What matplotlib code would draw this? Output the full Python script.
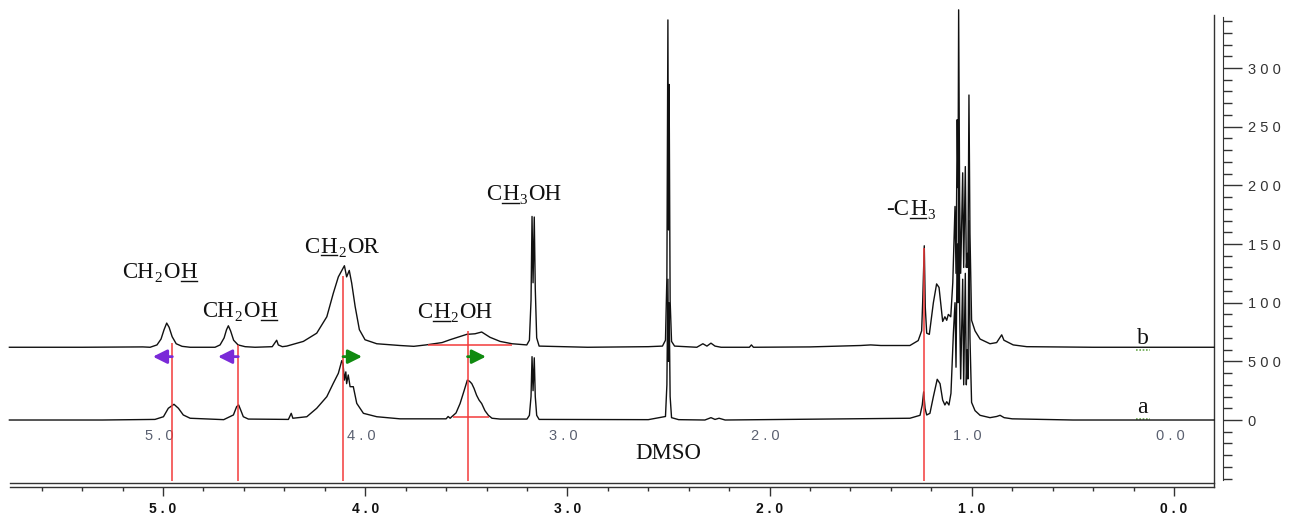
import numpy as np
import matplotlib
matplotlib.use('Agg')
import matplotlib.pyplot as plt
from matplotlib.ticker import FixedLocator, MultipleLocator
from matplotlib.transforms import IdentityTransform
from matplotlib.lines import Line2D

# Spectrum a (bottom trace): chemical shift [ppm] and intensity
ppm_a = [5.76, 5.30, 5.04, 4.998, 4.974, 4.946, 4.924, 4.900, 4.866,
         4.70, 4.652, 4.636, 4.626, 4.616, 4.603, 4.578,
         4.38, 4.366, 4.358,
         4.289, 4.240, 4.190, 4.158, 4.133, 4.116, 4.110, 4.103, 4.096, 4.092,
         4.084, 4.075, 4.059, 4.042, 4.009, 3.943, 3.828,
         3.60, 3.59, 3.58,
         3.572, 3.551, 3.531, 3.511, 3.495, 3.484, 3.473, 3.462, 3.449, 3.437,
         3.424, 3.408, 3.391, 3.373, 3.333,
         3.20, 3.188, 3.180, 3.175, 3.170, 3.164, 3.159, 3.152, 3.140,
         2.60, 2.515, 2.508, 2.503, 2.500, 2.497, 2.492, 2.485, 2.45,
         2.32, 2.29, 2.27, 2.25, 2.22,
         1.306, 1.256, 1.245, 1.238, 1.231, 1.223, 1.207, 1.190, 1.171, 1.157,
         1.144, 1.133, 1.124, 1.113, 1.103, 1.091,
         1.083, 1.078, 1.072, 1.068, 1.065, 1.060, 1.055, 1.045, 1.040, 1.032,
         1.027, 1.022, 1.019, 1.014, 1.009, 1.001, 0.984, 0.959, 0.910, 0.877,
         0.860, 0.840, 0.800, 0.50, -0.198]
int_a = [0, 0, 0.5, 2.8, 10, 13.4, 10, 4.3, 1.5,
         0.3, 4.3, 11.4, 12.8, 8.5, 2.8, 0.8,
         0.5, 5.7, 1.5,
         2.8, 10, 19.9, 31.3, 39.8, 50.6, 48, 34, 41, 31,
         38.4, 28.4, 28.4, 14.2, 5.7, 2.8, 1,
         1, 3, 1.5,
         2.8, 6, 14, 25, 34, 33, 31, 27, 21, 17,
         14, 8, 4, 1.5, 0.8,
         0.8, 4, 20, 54, 25, 53, 20, 4, 0.5,
         0.3, 3, 30, 120, 50, 100, 20, 2, 0.3,
         0, 2, 0.5, 1.5, 0,
         1.5, 4, 12.8, 24, 9.9, 4.3, 5.7, 19.9, 34.7, 31,
         17, 12.8, 15.6, 12.8, 22.7, 74,
         100, 45, 150, 100, 230, 95, 35, 120, 30, 125,
         30, 60, 35, 170, 70, 15, 8, 4, 2, 3,
         4, 2, 1, 0, 0]

# Spectrum b (top trace), intensity relative to its own baseline
ppm_b = [5.76, 5.40, 5.10, 5.064, 5.030, 5.010, 4.995, 4.982, 4.970, 4.955, 4.935, 4.906, 4.866,
         4.743, 4.718, 4.698, 4.686, 4.677, 4.666, 4.651, 4.629, 4.594, 4.545,
         4.46, 4.438, 4.43, 4.41,
         4.388, 4.306, 4.240, 4.190, 4.158, 4.133, 4.103, 4.092, 4.079, 4.067,
         4.050, 4.029, 4.001, 3.943, 3.828,
         3.76, 3.70, 3.62, 3.581, 3.498, 3.457, 3.424, 3.383, 3.333, 3.274, 3.201,
         3.188, 3.180, 3.175, 3.170, 3.164, 3.159, 3.152, 3.140,
         2.90, 2.60, 2.530, 2.515, 2.508, 2.503, 2.500, 2.497, 2.492, 2.485, 2.470,
         2.36, 2.33, 2.31, 2.29, 2.27, 2.24, 2.10, 2.09, 2.08, 1.80, 1.55, 1.50, 1.45,
         1.306, 1.265, 1.248, 1.243, 1.235, 1.230, 1.223, 1.210, 1.190, 1.174,
         1.162, 1.152, 1.144, 1.133, 1.124, 1.116, 1.104, 1.094,
         1.083, 1.078, 1.072, 1.068, 1.065, 1.060, 1.055, 1.045, 1.040, 1.032,
         1.027, 1.022, 1.019, 1.014, 1.009, 1.001, 0.984, 0.959, 0.910, 0.877,
         0.852, 0.841, 0.795, 0.728, 0.40, -0.198]
int_b = [0, 0, 0.3, 0, 2, 7, 15, 20.6, 17, 9, 3, 0.8, 0,
         0, 2, 8, 15, 18.3, 14, 6, 2, 0.5, 0,
         0.5, 6, 2, 0.5,
         1, 5, 12, 26, 46, 60, 69.5, 60, 65.5, 54.7,
         34.8, 15, 6.4, 3, 1.5,
         0.8, 2, 4, 6.4, 11, 11.5, 13, 8.5, 5, 3, 2,
         6, 40, 111.5, 55, 111, 50, 8, 1,
         0, 0.5, 1, 6, 60, 279, 100, 224, 40, 5, 1,
         0, 3, 1, 3.5, 1, 0, 0, 2, 0, 0.3, 1.5, 2, 1.5,
         1.5, 5.7, 14, 38, 86.5, 34, 12, 11, 38, 54,
         51, 35, 22, 26, 23, 28, 26, 55,
         120, 63, 194, 136, 287.6, 125, 63, 148.7, 68, 154,
         68, 80, 68, 215, 97, 23, 14, 7, 3, 4,
         10.6, 6, 2, 0.5, 0, 0]
b_offset = 62

# marked peaks (red lines) and shift arrows
mark_ppm = [4.954, 4.628, 4.110, 3.494, 1.236]
mark_top = [65.6, 63.9, 122.7, 75.9, 146.6]
arrow_tail = [4.954, 4.628, 4.110, 3.494]
arrow_tip = [5.050, 4.728, 4.016, 3.403]
arrow_col = ['#7a2ad8', '#7a2ad8', '#108a10', '#108a10']

ppm_ticks = [5, 4, 3, 2, 1, 0]
ppm_labels = ['5 . 0', '4 . 0', '3 . 0', '2 . 0', '1 . 0', '0 . 0']
int_ticks = [0, 50, 100, 150, 200, 250, 300]
int_labels = ['0', '5 0 0', '1 0 0', '1 5 0', '2 0 0', '2 5 0', '3 0 0']

fig = plt.figure(figsize=(13, 5.19), dpi=100)
ax = fig.add_axes([10/1300, 32/519, 1204/1300, 472/519])
ax.set_xlim(5.757, -0.198)
ax.set_ylim(-57.1, 345.2)

ink = '#111111'
ax.plot(ppm_a, int_a, color=ink, lw=1.0, clip_on=False, zorder=3)
ax.plot(ppm_b, np.array(int_b) + b_offset, color=ink, lw=1.0, clip_on=False, zorder=3)

# red reference lines
red = '#f23a3a'
ax.vlines(mark_ppm, -52, mark_top, color=red, lw=1.1, zorder=4)
ax.hlines([63.9, 2.6], [3.689, 3.566], [3.274, 3.388], color=red, lw=1.1, zorder=4)

for t0, t1, c in zip(arrow_tail, arrow_tip, arrow_col):
    ax.annotate('', xy=(t1, 54), xytext=(t0, 54),
                arrowprops=dict(arrowstyle='-|>,head_length=0.6,head_width=0.3',
                                color=c, lw=2, mutation_scale=14,
                                shrinkA=0, shrinkB=0), zorder=5)

# frame and axes
for s in ['left', 'top']:
    ax.spines[s].set_visible(False)
for s in ['right', 'bottom']:
    ax.spines[s].set_color('#333333')
    ax.spines[s].set_linewidth(1)
ax.plot([0, 1], [0.0085, 0.0085], transform=ax.transAxes, color='#333333',
        lw=1, clip_on=False)
ax.xaxis.set_major_locator(FixedLocator(ppm_ticks))
ax.set_xticklabels(ppm_labels, fontfamily='Liberation Sans', fontweight='bold',
                   fontsize=10, color=ink)
ax.xaxis.set_minor_locator(MultipleLocator(0.2))
ax.tick_params(axis='x', which='major', length=6.5, width=1, color='#333333', pad=4)
ax.tick_params(axis='x', which='minor', length=3, width=1, color='#333333')

# inner grey scale labels
for v, lab in zip(ppm_ticks, ppm_labels):
    ax.text(v + 0.02, -14, lab, ha='center', va='center', fontsize=10.5,
            family='Liberation Sans', color='#5a6070')

ax2 = ax.twinx()
ax2.set_ylim(ax.get_ylim())
ax.tick_params(axis='y', which='both', left=False, right=False,
               labelleft=False, labelright=False)
for s in ['left', 'top', 'bottom']:
    ax2.spines[s].set_visible(False)
ax2.spines['right'].set_position(('outward', 6.5))
ax2.spines['right'].set_bounds(-51, 343.5)
ax2.spines['right'].set_color('#333333')
ax2.yaxis.set_major_locator(FixedLocator(int_ticks))
ax2.set_yticklabels(int_labels, fontfamily='Liberation Sans', fontsize=10.5,
                    color='#333333')
ax2.yaxis.set_minor_locator(MultipleLocator(10))
ax2.tick_params(axis='y', which='major', length=13.7, width=1, color='#333333', pad=4)
ax2.tick_params(axis='y', which='minor', length=6.5, width=1, color='#333333')


def chem(xd, yd, parts, size=16.5):
    # draw a formula made of runs: n normal, u underlined, s subscript
    r = fig.canvas.get_renderer()
    x0, y0 = ax.transData.transform((xd, yd))
    items = []
    for s, kind in parts:
        fs = size * 0.66 if kind == 's' else size
        t = fig.text(0, 0, s, fontsize=fs, family='Liberation Serif', color=ink,
                     transform=IdentityTransform(), ha='left', va='baseline')
        items.append((t, kind, t.get_window_extent(r).width + 1))
    total = sum(w for _, _, w in items)
    x = x0 - total / 2
    for t, kind, w in items:
        dy = -4 if kind == 's' else 0
        t.set_position((x, y0 + dy))
        if kind == 'u':
            fig.add_artist(Line2D([x, x + w - 1], [y0 - 2.5, y0 - 2.5],
                                  transform=IdentityTransform(), color=ink, lw=1))
        x += w


chem(5.015, 120.8, [('CH', 'n'), ('2', 's'), ('O', 'n'), ('H', 'u')])
chem(4.619, 87.5, [('CH', 'n'), ('2', 's'), ('O', 'n'), ('H', 'u')])
chem(4.115, 142.6, [('C', 'n'), ('H', 'u'), ('2', 's'), ('OR', 'n')])
chem(3.556, 86.7, [('C', 'n'), ('H', 'u'), ('2', 's'), ('OH', 'n')])
chem(3.215, 187.5, [('C', 'n'), ('H', 'u'), ('3', 's'), ('OH', 'n')])
chem(1.301, 174.7, [('-C', 'n'), ('H', 'u'), ('3', 's')])

ax.text(2.502, -33.2, 'DMSO', ha='center', va='baseline', fontsize=16.5,
        family='Liberation Serif', color=ink)
ax.text(0.153, 65, 'b', ha='center', va='baseline', fontsize=17,
        family='Liberation Serif', color=ink)
ax.text(0.158, 6.2, 'a', ha='center', va='baseline', fontsize=17,
        family='Liberation Serif', color=ink)
ax.plot([0.19, 0.12], [59.7, 59.7], color='#6aa84f', lw=1.2, ls=(0, (1, 1)))
ax.plot([0.19, 0.12], [0.9, 0.9], color='#6aa84f', lw=1.2, ls=(0, (1, 1)))

fig.savefig('out.png', dpi=100)
